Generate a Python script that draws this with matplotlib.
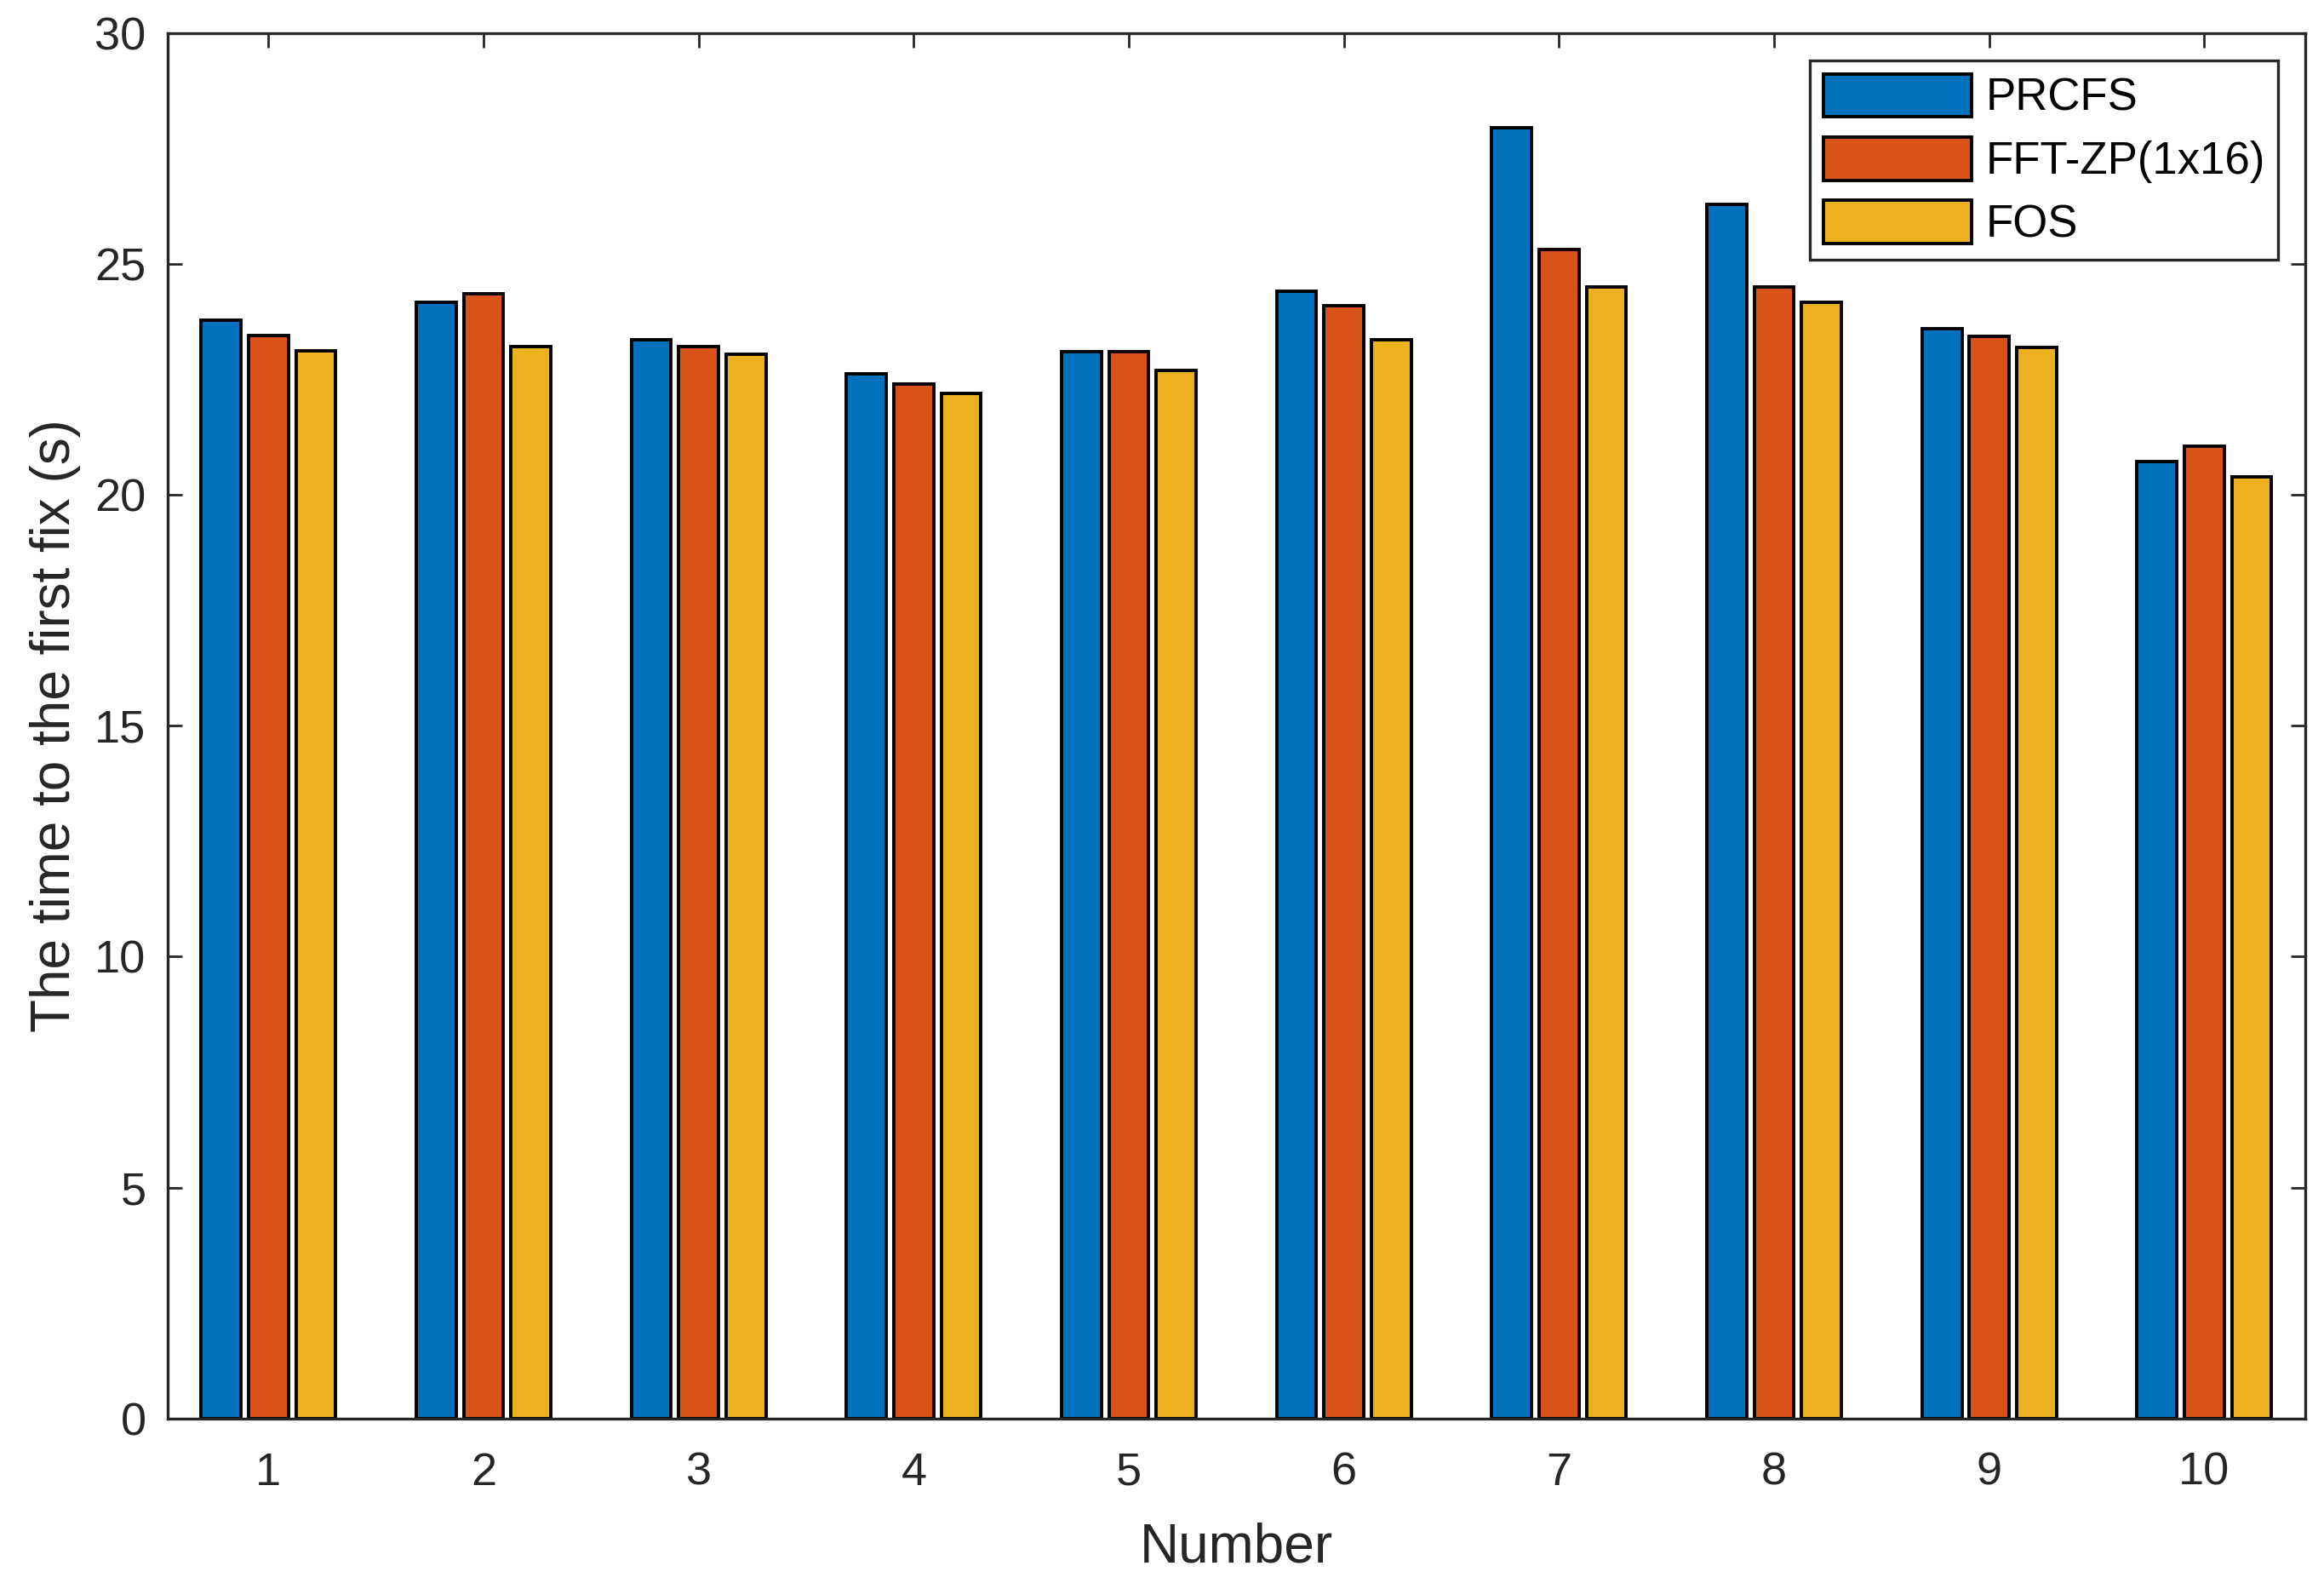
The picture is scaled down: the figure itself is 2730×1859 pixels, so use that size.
import numpy as np
import matplotlib
matplotlib.use('Agg')
import matplotlib.pyplot as plt

# values
numbers = [1, 2, 3, 4, 5, 6, 7, 8, 9, 10]
prcfs = [23.78, 24.18, 23.37, 22.63, 23.11, 24.42, 27.95, 26.30, 23.60, 20.73]
fft_zp = [23.45, 24.36, 23.21, 22.40, 23.11, 24.10, 25.32, 24.50, 23.43, 21.06]
fos = [23.13, 23.21, 23.04, 22.20, 22.70, 23.36, 24.50, 24.18, 23.20, 20.40]
series_names = ['PRCFS', 'FFT-ZP(1x16)', 'FOS']

colors = ['#0072BD', '#D95319', '#EDB120']
dark = '#262626'

plt.rcParams['font.family'] = ['Liberation Sans', 'DejaVu Sans']

fig = plt.figure(figsize=(13.65, 9.295), dpi=200)
ax = fig.add_axes([0.072, 0.104, 0.92, 0.875])

idx = np.array(numbers, dtype=float)
offsets = [-0.22, 0.0, 0.22]
width = 0.185
for data, off, c, name in zip([prcfs, fft_zp, fos], offsets, colors, series_names):
    ax.bar(idx + off, data, width=width, color=c, edgecolor='black',
           linewidth=1.4, label=name, zorder=2)

ax.set_xlim(0.53, 10.47)
ax.set_ylim(0, 30)
ax.set_xticks(numbers)
ax.set_yticks(np.arange(0, 31, 5))

ax.tick_params(direction='in', length=6, width=1.0, colors=dark,
               labelsize=19.5, top=True, right=True)
ax.tick_params(axis='x', pad=14)
ax.tick_params(axis='y', pad=9)
for sp in ax.spines.values():
    sp.set_color(dark)
    sp.set_linewidth(1.2)
    sp.set_zorder(3)

ax.set_xlabel('Number', fontsize=23, color=dark, labelpad=12)
ax.set_ylabel('The time to the first fix (s)', fontsize=23, color=dark, labelpad=6)

leg = ax.legend(loc='upper right', fontsize=19, fancybox=False, framealpha=1,
                edgecolor=dark, handlelength=3.3, handleheight=1.1,
                handletextpad=0.3, labelspacing=0.38, borderpad=0.3,
                borderaxespad=0.6)
leg.get_frame().set_linewidth(1.2)

fig.savefig('out.png', dpi=200)
